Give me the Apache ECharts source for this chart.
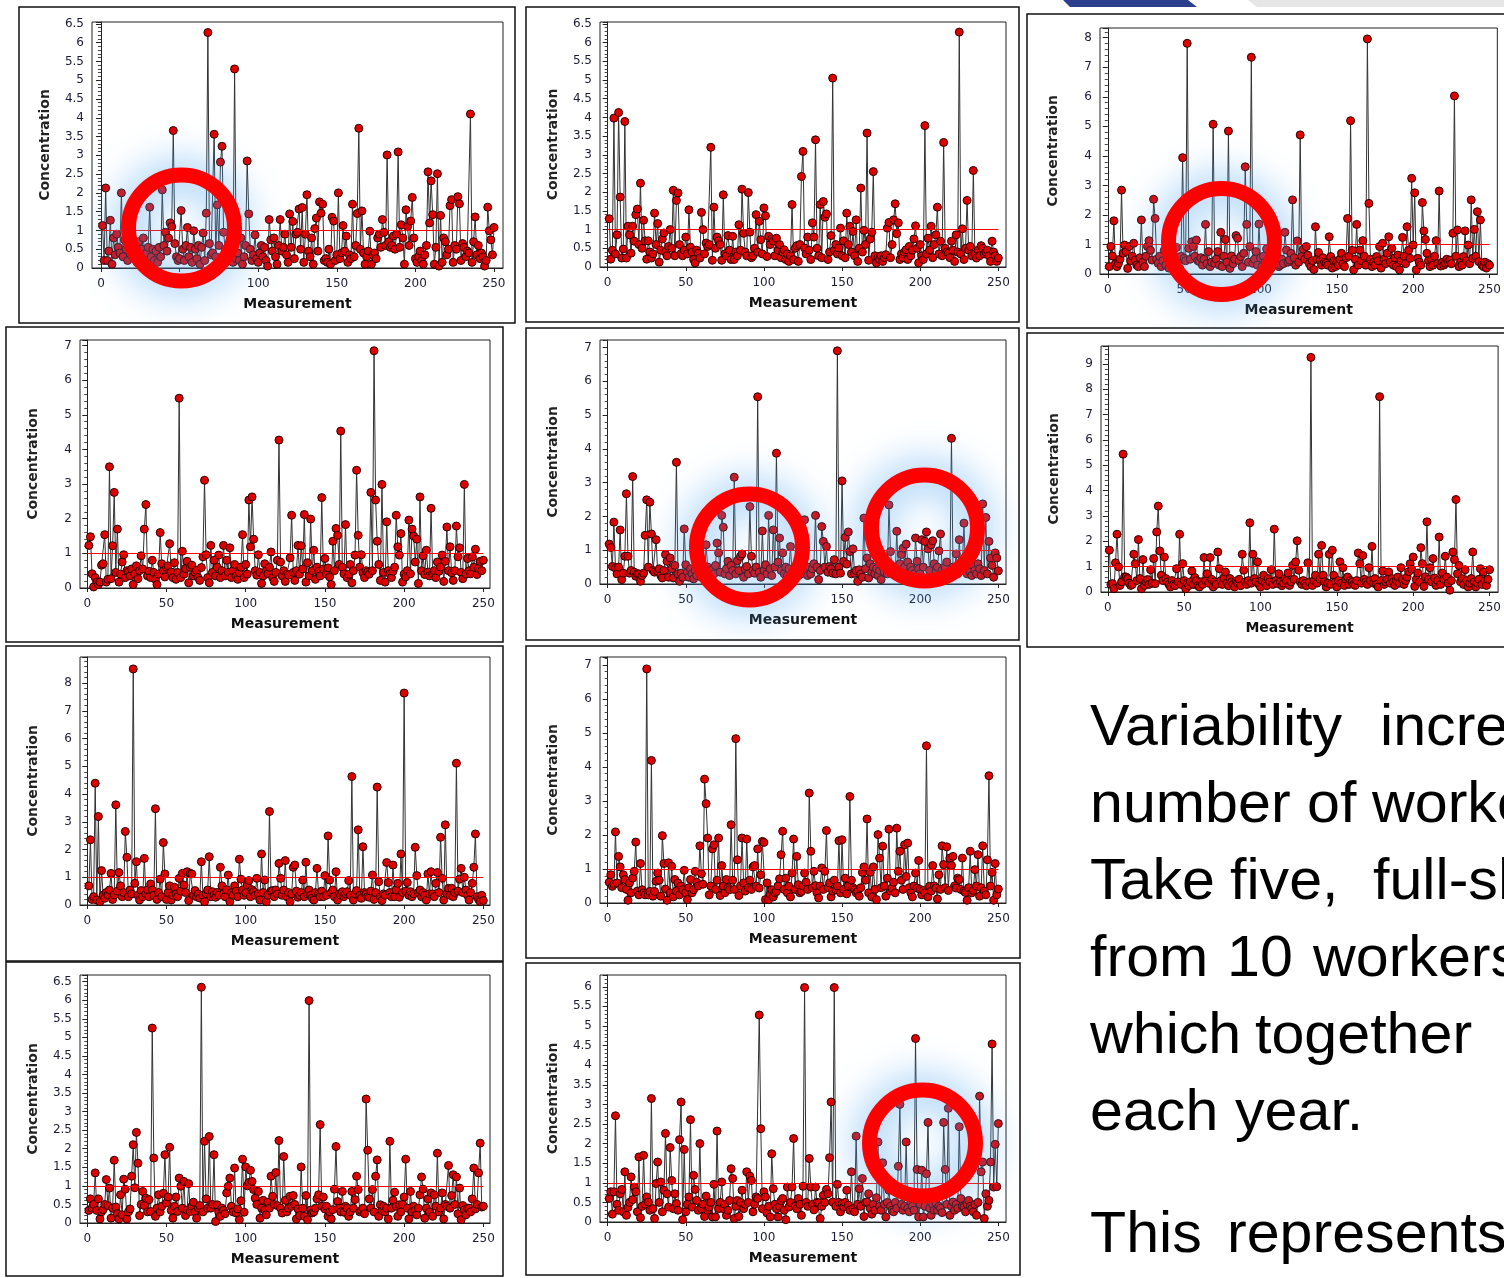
<!DOCTYPE html>
<html>
<head>
<meta charset="utf-8">
<script src="https://cdn.jsdelivr.net/npm/echarts@6/dist/echarts.min.js"></script>
<style>
  html, body { margin: 0; padding: 0; background: #fff; }
  #chart { width: 1504px; height: 1278px; }
</style>
</head>
<body>
<div id="chart"></div>
<script>
// concentration readings, 250 per worker panel
const conc1 = [
  1.13, 0.2, 2.13, 0.2, 0.45, 1.27, 0.1, 0.8, 0.35, 0.9,
  0.55, 0.4, 2.0, 0.3, 0.75, 0.5, 0.2, 0.95, 0.35, 0.6,
  0.25, 0.45, 0.15, 0.7, 0.3, 0.5, 0.8, 0.2, 0.4, 0.55,
  1.62, 0.3, 0.5, 0.2, 0.45, 0.15, 0.55, 0.3, 2.08, 0.6,
  0.95, 0.45, 0.8, 1.2, 1.1, 3.66, 0.65, 0.3, 0.2, 0.25,
  1.53, 0.5, 0.2, 0.6, 1.08, 0.3, 0.55, 0.15, 0.99, 0.5,
  0.25, 0.6, 0.1, 0.55, 0.93, 0.2, 1.46, 6.27, 0.65, 0.35,
  0.4, 3.56, 0.3, 1.68, 0.6, 2.82, 3.24, 0.95, 0.5, 0.3,
  0.2, 0.45, 0.3, 0.15, 5.3, 0.25, 0.4, 0.2, 0.8, 0.1,
  0.3, 0.6, 2.85, 1.44, 0.5, 0.2, 0.35, 0.88, 0.25, 0.15,
  0.4, 0.6, 0.3, 0.55, 0.2, 0.05, 1.29, 0.75, 0.45, 0.8,
  0.3, 0.1, 0.6, 1.29, 0.45, 0.55, 0.9, 0.35, 0.15, 1.44,
  0.55, 1.24, 0.25, 0.9, 0.95, 1.57, 0.5, 1.61, 0.15, 0.9,
  1.95, 0.45, 0.3, 0.8, 0.1, 1.05, 1.33, 0.45, 1.76, 1.46,
  1.7, 0.2, 0.25, 0.15, 0.5, 0.1, 1.35, 1.25, 0.2, 0.35,
  2.0, 0.25, 0.4, 1.13, 0.45, 0.85, 0.15, 0.35, 0.25, 1.7,
  0.3, 0.6, 1.45, 3.72, 0.5, 1.52, 0.4, 0.1, 0.3, 0.45,
  0.98, 0.1, 0.35, 0.4, 0.25, 0.8, 0.9, 0.55, 1.29, 0.95,
  0.6, 3.01, 0.7, 0.55, 0.6, 0.85, 0.5, 0.9, 3.09, 0.55,
  1.15, 0.8, 0.1, 1.55, 1.1, 0.6, 1.25, 1.88, 0.8, 0.25,
  0.15, 0.3, 0.45, 0.2, 0.1, 0.35, 0.6, 2.56, 1.2, 2.32,
  1.42, 0.1, 0.55, 2.51, 0.05, 1.4, 0.15, 0.8, 0.7, 0.35,
  0.5, 1.66, 1.82, 0.15, 0.6, 0.5, 1.9, 1.71, 0.2, 0.65,
  0.55, 0.3, 0.45, 0.4, 4.1, 0.15, 0.7, 1.36, 0.35, 0.6,
  0.25, 0.4, 0.3, 0.05, 0.2, 1.62, 0.99, 0.75, 0.35, 1.08
];
const conc2 = [
  1.29, 0.21, 0.45, 3.98, 0.35, 0.86, 4.13, 1.87, 0.24, 0.48,
  3.89, 0.24, 1.09, 0.86, 0.37, 1.09, 0.69, 1.4, 1.55, 0.6,
  2.24, 0.5, 1.25, 0.7, 0.21, 0.7, 0.4, 0.24, 0.35, 1.44,
  0.6, 1.16, 0.13, 0.45, 0.75, 0.91, 0.4, 0.3, 0.55, 1.0,
  0.5, 2.05, 0.3, 1.78, 1.98, 0.6, 0.36, 0.3, 0.45, 0.8,
  0.35, 1.53, 0.53, 0.4, 0.2, 0.11, 0.45, 0.37, 0.24, 1.46,
  1.0, 0.35, 0.64, 0.55, 0.6, 3.2, 0.18, 1.6, 0.5, 0.8,
  0.7, 0.6, 0.18, 1.93, 0.35, 0.3, 0.84, 0.45, 0.2, 0.82,
  0.2, 0.4, 0.3, 1.13, 0.45, 2.08, 0.9, 0.4, 0.3, 1.99,
  0.93, 0.25, 0.3, 0.5, 1.4, 0.4, 1.22, 0.73, 0.35, 1.58,
  1.37, 0.28, 0.82, 0.6, 0.75, 0.69, 0.3, 0.77, 0.45, 0.6,
  0.25, 0.4, 0.46, 0.2, 0.35, 0.15, 0.3, 1.67, 0.2, 0.5,
  0.57, 0.15, 0.6, 2.42, 3.09, 0.51, 0.35, 0.8, 0.45, 0.2,
  1.18, 0.8, 3.4, 0.5, 0.3, 1.67, 0.25, 1.75, 1.33, 1.42,
  0.2, 0.4, 0.84, 5.05, 0.45, 0.6, 0.35, 0.51, 1.04, 0.3,
  0.7, 0.25, 1.44, 0.6, 1.09, 0.4, 0.95, 0.3, 1.26, 0.15,
  0.5, 2.11, 0.4, 0.98, 0.6, 3.58, 0.18, 0.75, 0.93, 2.55,
  0.3, 0.11, 0.25, 0.2, 0.3, 0.15, 0.25, 0.33, 1.04, 1.19,
  0.25, 0.6, 1.26, 1.69, 0.89, 1.18, 0.2, 0.35, 0.25, 0.4,
  0.46, 0.2, 0.55, 0.3, 0.45, 0.75, 1.1, 0.5, 0.11, 0.6,
  0.3, 0.2, 3.78, 0.35, 0.77, 0.45, 1.09, 0.25, 0.6, 0.86,
  1.6, 0.35, 0.69, 0.3, 3.33, 0.5, 0.4, 0.37, 0.25, 0.69,
  0.45, 0.15, 0.86, 0.4, 6.28, 0.35, 1.02, 0.2, 0.5, 1.78,
  0.45, 0.55, 0.3, 2.58, 0.35, 0.24, 0.45, 0.3, 0.57, 0.5,
  0.35, 0.4, 0.45, 0.3, 0.15, 0.69, 0.4, 0.3, 0.15, 0.24
];
const conc3 = [
  0.25, 0.93, 0.61, 1.8, 0.35, 0.25, 0.36, 0.5, 2.84, 0.7,
  0.98, 0.76, 0.19, 0.93, 0.45, 0.6, 1.04, 0.47, 0.3, 0.25,
  0.55, 1.83, 0.4, 0.25, 0.6, 0.93, 1.13, 0.8, 0.47, 2.53,
  1.88, 0.5, 0.36, 0.6, 0.25, 0.45, 0.8, 0.3, 0.55, 0.2,
  0.4, 0.65, 0.3, 0.5, 0.9, 0.35, 0.2, 0.6, 3.94, 0.53,
  0.45, 7.81, 0.87, 0.5, 1.09, 0.93, 0.6, 1.15, 0.45, 0.42,
  0.55, 0.3, 0.5, 1.68, 0.35, 0.76, 0.25, 0.4, 5.07, 0.36,
  0.5, 0.76, 0.3, 1.41, 0.25, 0.6, 1.17, 0.4, 4.84, 0.19,
  0.61, 0.35, 0.5, 1.3, 1.21, 0.45, 0.59, 0.25, 0.7, 3.63,
  1.68, 0.4, 0.93, 7.34, 0.36, 0.5, 0.76, 0.3, 1.69, 0.55,
  0.25, 0.6, 0.4, 0.85, 0.3, 0.5, 0.2, 0.65, 0.35, 0.45,
  0.6, 0.25, 0.3, 0.5, 0.35, 1.41, 0.81, 0.4, 0.47, 0.7,
  2.51, 0.55, 0.3, 1.12, 0.4, 4.71, 0.6, 0.84, 0.5, 0.93,
  0.64, 0.35, 0.25, 0.45, 0.15, 1.6, 0.5, 0.73, 0.47, 0.3,
  0.55, 0.4, 0.36, 0.3, 1.26, 0.59, 0.2, 0.45, 0.25, 0.4,
  0.3, 0.5, 0.7, 0.35, 0.25, 0.55, 1.88, 0.6, 5.19, 0.8,
  0.14, 0.5, 1.68, 0.3, 0.81, 0.45, 1.13, 0.6, 0.3, 7.96,
  2.39, 0.5, 0.25, 0.4, 0.3, 0.59, 0.45, 0.93, 0.2, 1.04,
  0.5, 0.35, 0.7, 1.26, 0.4, 0.87, 0.3, 0.55, 0.25, 0.64,
  0.14, 0.45, 1.24, 0.6, 0.35, 1.6, 0.8, 0.53, 3.24, 0.98,
  2.75, 0.14, 0.53, 0.4, 0.3, 2.42, 1.46, 1.17, 0.7, 0.45,
  0.25, 0.5, 0.3, 0.6, 1.13, 0.35, 2.81, 0.27, 0.4, 0.3,
  0.36, 0.5, 0.4, 0.47, 0.35, 1.38, 6.03, 0.6, 1.49, 0.25,
  0.4, 0.3, 0.59, 1.46, 0.45, 0.98, 0.35, 2.51, 0.53, 1.51,
  0.6, 2.11, 0.42, 1.83, 0.3, 0.25, 0.4, 0.2, 0.35, 0.3
];
const conc4 = [
  1.23, 1.48, 0.41, 0.03, 0.3, 0.17, 0.1, 0.17, 0.66, 0.7,
  1.54, 0.17, 0.25, 3.5, 0.27, 1.22, 2.76, 0.45, 1.7, 0.17,
  0.4, 0.75, 0.96, 0.3, 0.5, 0.46, 0.35, 0.55, 0.1, 0.4,
  0.64, 0.27, 0.5, 0.93, 0.55, 1.7, 2.41, 0.35, 0.48, 0.3,
  0.8, 0.45, 0.25, 0.1, 0.4, 1.6, 0.7, 0.5, 0.32, 0.6,
  0.64, 1.28, 0.46, 0.3, 0.73, 0.25, 0.45, 5.48, 0.3, 1.06,
  0.4, 0.56, 0.77, 0.15, 0.6, 0.66, 0.35, 0.45, 0.51, 0.3,
  0.22, 0.59, 0.9, 3.11, 0.96, 0.3, 0.15, 1.23, 0.45, 0.8,
  0.35, 0.6, 0.95, 0.3, 0.5, 1.23, 0.35, 0.8, 0.45, 1.16,
  0.3, 0.5, 0.68, 0.35, 0.25, 0.44, 0.6, 1.54, 0.3, 0.68,
  0.4, 2.54, 1.19, 2.63, 1.41, 0.5, 0.37, 0.96, 0.45, 0.13,
  0.35, 0.7, 0.5, 0.41, 0.6, 1.04, 0.3, 0.19, 0.45, 0.8,
  4.27, 0.75, 0.35, 0.5, 0.19, 0.4, 0.37, 0.87, 2.1, 0.45,
  0.22, 0.5, 1.23, 0.4, 1.22, 0.55, 2.12, 0.17, 0.73, 0.35,
  1.99, 0.5, 1.09, 0.25, 0.6, 0.48, 0.35, 2.61, 0.55, 0.85,
  0.4, 0.58, 0.32, 0.1, 1.35, 0.5, 1.72, 1.52, 0.68, 4.53,
  0.6, 0.41, 1.83, 0.3, 0.39, 0.68, 0.15, 0.5, 0.95, 3.4,
  1.52, 0.6, 0.96, 0.44, 0.3, 0.5, 0.46, 0.4, 2.76, 0.5,
  6.85, 2.54, 1.35, 0.68, 0.22, 2.99, 0.45, 0.17, 1.91, 0.5,
  0.41, 0.3, 0.48, 0.6, 2.1, 1.19, 0.95, 1.57, 0.17, 0.4,
  0.32, 0.5, 1.96, 0.41, 1.7, 1.5, 0.75, 1.41, 0.13, 2.63,
  0.5, 0.93, 0.39, 1.09, 0.46, 0.35, 2.3, 0.41, 0.5, 0.3,
  0.75, 0.48, 0.6, 0.95, 0.19, 0.77, 1.76, 0.5, 1.19, 0.44,
  0.22, 0.5, 1.79, 0.9, 1.16, 0.45, 0.27, 2.99, 0.4, 0.85,
  0.5, 0.41, 0.9, 0.6, 1.12, 0.39, 0.56, 0.77, 0.5, 0.8
];
const conc5 = [
  1.18, 1.08, 0.52, 1.83, 0.47, 0.3, 0.5, 1.6, 0.13, 0.32,
  0.82, 2.67, 0.82, 0.32, 0.4, 3.18, 0.35, 0.23, 0.3, 0.3,
  0.08, 0.25, 0.32, 1.44, 2.49, 0.5, 2.42, 1.48, 0.4, 0.35,
  1.31, 0.37, 0.45, 0.25, 0.18, 0.4, 0.87, 0.67, 0.2, 0.77,
  0.45, 0.18, 0.55, 3.6, 0.3, 0.08, 0.32, 0.2, 1.63, 0.57,
  0.35, 0.2, 0.45, 0.3, 0.15, 0.4, 0.25, 0.5, 0.3, 0.2,
  0.45, 0.3, 1.16, 0.5, 0.25, 0.4, 0.42, 0.3, 0.55, 1.21,
  0.92, 0.35, 2.03, 1.68, 0.3, 0.45, 0.67, 0.25, 0.55, 0.4,
  3.16, 0.3, 0.69, 0.4, 0.82, 0.89, 0.2, 0.45, 0.52, 0.3,
  2.29, 0.82, 0.4, 0.32, 0.5, 5.54, 0.35, 0.2, 1.57, 0.4,
  0.57, 0.3, 2.03, 0.45, 0.25, 1.6, 0.5, 3.87, 0.65, 1.36,
  0.4, 0.92, 0.3, 0.5, 0.25, 0.45, 1.11, 0.3, 0.2, 0.5,
  0.35, 0.25, 0.45, 0.3, 0.6, 1.9, 0.4, 0.25, 0.5, 0.3,
  0.45, 0.6, 2.03, 0.5, 0.13, 0.4, 1.7, 1.26, 0.5, 1.11,
  0.35, 0.52, 0.45, 0.32, 0.72, 0.3, 6.9, 0.5, 0.32, 3.05,
  0.67, 1.38, 0.59, 1.54, 0.96, 0.3, 1.04, 0.32, 0.4, 0.08,
  0.42, 0.3, 0.2, 1.95, 0.45, 0.77, 0.18, 0.6, 0.35, 0.5,
  0.3, 0.45, 0.25, 0.4, 0.13, 0.5, 0.35, 0.6, 0.3, 2.34,
  0.96, 0.5, 0.4, 0.3, 1.56, 0.45, 0.6, 0.87, 1.06, 0.5,
  1.18, 0.65, 0.35, 0.5, 0.4, 0.3, 1.36, 0.67, 0.45, 0.3,
  1.31, 0.5, 1.26, 1.54, 1.04, 0.4, 1.16, 1.28, 0.6, 0.35,
  0.5, 0.98, 1.48, 0.4, 0.3, 0.5, 0.65, 0.35, 0.25, 4.31,
  0.5, 0.4, 0.89, 0.3, 1.31, 0.45, 0.6, 1.8, 0.4, 0.3,
  0.5, 0.35, 0.25, 0.55, 0.4, 0.3, 0.6, 0.45, 0.25, 2.37,
  0.4, 1.97, 0.3, 1.26, 0.77, 0.55, 0.2, 0.92, 0.77, 0.39
];
const conc6 = [
  1.65, 0.3, 0.33, 0.13, 1.15, 2.28, 0.99, 0.26, 0.4, 5.44,
  0.6, 0.59, 0.53, 0.35, 0.26, 0.3, 1.49, 1.12, 0.45, 2.07,
  0.53, 0.13, 1.28, 0.26, 0.4, 0.49, 0.3, 0.88, 0.35, 1.32,
  0.33, 2.37, 3.39, 1.62, 0.66, 0.45, 1.38, 0.53, 0.4, 0.3,
  0.2, 0.45, 0.3, 0.25, 0.92, 0.4, 2.28, 0.3, 1.12, 0.45,
  0.13, 0.35, 0.25, 0.4, 0.83, 0.3, 0.57, 0.45, 0.25, 0.2,
  0.4, 0.3, 1.36, 0.45, 0.72, 0.35, 1.36, 0.5, 0.2, 0.4,
  0.3, 1.58, 0.92, 0.45, 0.3, 0.55, 0.79, 0.35, 0.25, 0.53,
  0.4, 0.3, 0.2, 0.43, 0.35, 0.5, 0.25, 1.49, 0.86, 0.4,
  0.3, 0.45, 2.73, 0.35, 1.49, 0.53, 0.4, 1.19, 0.3, 0.2,
  0.45, 0.66, 0.35, 0.25, 0.53, 0.4, 0.88, 0.3, 2.48, 0.45,
  0.33, 0.72, 0.4, 0.25, 0.35, 0.53, 0.45, 0.75, 0.26, 0.4,
  1.05, 0.5, 1.19, 2.02, 0.86, 0.4, 0.3, 0.45, 0.33, 0.25,
  1.15, 0.4, 9.26, 0.26, 0.45, 0.66, 0.35, 1.49, 0.5, 1.84,
  0.66, 0.4, 0.2, 0.35, 1.49, 0.3, 1.65, 0.66, 0.4, 0.2,
  0.45, 1.19, 0.35, 0.96, 0.26, 0.5, 0.59, 0.3, 0.45, 0.4,
  0.3, 0.26, 0.45, 1.54, 1.12, 0.35, 1.44, 0.5, 0.4, 0.3,
  0.96, 0.45, 1.8, 0.35, 0.53, 0.3, 0.2, 7.71, 0.45, 0.83,
  0.3, 0.4, 0.5, 0.79, 0.35, 0.53, 0.4, 0.26, 0.45, 0.59,
  0.35, 0.96, 0.5, 0.3, 0.45, 0.59, 0.8, 1.12, 0.9, 1.38,
  0.22, 0.5, 0.75, 0.4, 1.75, 1.12, 0.22, 0.6, 2.77, 0.5,
  0.96, 0.4, 1.32, 0.55, 0.26, 0.45, 2.17, 0.3, 0.75, 0.5,
  1.41, 0.59, 0.35, 0.07, 0.45, 1.58, 1.28, 3.65, 0.72, 1.05,
  0.4, 0.53, 0.3, 0.88, 0.45, 0.2, 0.35, 0.53, 1.58, 0.4,
  0.2, 0.35, 0.5, 0.92, 0.3, 0.79, 0.45, 0.26, 0.5, 0.88
];
const conc7 = [
  0.69, 2.35, 0.2, 0.3, 4.39, 0.18, 3.19, 0.12, 1.24, 0.35,
  0.24, 0.45, 0.36, 0.54, 1.14, 0.2, 0.36, 3.61, 0.5, 1.17,
  0.69, 0.3, 0.45, 2.65, 1.72, 0.3, 0.54, 0.4, 8.51, 0.78,
  1.56, 0.35, 0.18, 0.52, 0.3, 1.68, 0.4, 0.55, 0.3, 0.76,
  0.54, 0.35, 3.47, 0.2, 0.45, 0.93, 0.3, 2.25, 1.12, 0.2,
  0.45, 0.69, 0.18, 0.35, 0.64, 0.4, 0.3, 0.96, 0.5, 1.14,
  0.72, 0.45, 1.2, 0.16, 1.14, 1.12, 0.35, 0.52, 0.3, 0.4,
  0.25, 1.56, 0.35, 0.12, 0.4, 0.54, 1.74, 0.3, 0.48, 0.35,
  0.28, 0.45, 0.35, 1.36, 0.69, 0.4, 0.3, 0.55, 1.08, 0.12,
  0.45, 0.35, 0.69, 0.5, 0.3, 1.65, 0.93, 0.54, 0.35, 0.45,
  0.72, 0.88, 0.3, 0.55, 0.48, 0.35, 0.96, 0.4, 0.18, 1.84,
  0.45, 0.9, 0.12, 0.35, 3.37, 0.5, 0.52, 0.3, 0.54, 0.4,
  1.5, 0.96, 0.35, 0.54, 1.6, 0.3, 0.45, 0.12, 0.4, 1.36,
  1.44, 0.5, 0.28, 0.35, 0.45, 0.9, 0.3, 1.54, 0.4, 0.54,
  0.35, 0.25, 0.18, 0.45, 1.32, 0.4, 0.3, 0.5, 0.3, 1.06,
  0.35, 2.49, 0.9, 0.45, 0.54, 0.3, 1.2, 0.18, 0.4, 0.35,
  0.48, 0.3, 0.4, 0.48, 0.88, 0.35, 4.63, 0.18, 0.4, 0.52,
  2.71, 0.35, 0.24, 2.1, 0.45, 0.4, 0.3, 0.28, 0.5, 1.08,
  0.2, 0.45, 4.25, 0.84, 0.3, 0.16, 0.4, 0.35, 1.53, 0.81,
  0.45, 0.3, 1.44, 0.3, 0.55, 0.78, 0.28, 1.84, 0.45, 7.64,
  0.5, 0.81, 0.35, 0.48, 0.3, 0.4, 2.08, 1.06, 0.45, 0.54,
  0.3, 0.45, 0.35, 0.18, 1.12, 0.4, 1.2, 0.4, 0.3, 0.78,
  1.17, 0.45, 2.44, 0.96, 0.18, 2.89, 0.4, 0.6, 0.35, 0.6,
  0.3, 0.45, 5.11, 0.5, 0.93, 1.32, 0.45, 1.0, 0.54, 0.35,
  0.18, 0.45, 0.78, 1.36, 2.56, 0.3, 0.2, 0.12, 0.35, 0.16
];
const conc8 = [
  0.61, 0.83, 0.49, 0.55, 2.09, 0.59, 1.37, 1.06, 0.45, 0.83,
  0.69, 0.4, 0.08, 0.59, 0.3, 0.73, 0.93, 1.79, 0.35, 0.24,
  1.16, 0.39, 0.3, 0.24, 6.88, 0.24, 0.34, 4.19, 0.2, 0.34,
  0.64, 0.88, 0.67, 0.2, 1.98, 1.16, 0.41, 0.08, 1.18, 0.3,
  1.08, 0.18, 0.69, 0.35, 0.59, 0.24, 0.5, 0.39, 0.96, 0.3,
  0.1, 0.45, 0.69, 0.3, 0.39, 0.93, 0.61, 0.5, 1.68, 0.86,
  0.55, 3.64, 2.92, 1.91, 0.24, 0.5, 1.59, 1.71, 0.4, 0.67,
  1.91, 0.22, 1.1, 0.5, 0.3, 0.69, 0.45, 0.39, 2.3, 0.67,
  0.4, 4.83, 1.27, 0.22, 0.5, 1.91, 0.59, 0.35, 1.88, 0.45,
  0.67, 0.4, 1.06, 1.1, 0.5, 1.59, 0.44, 0.83, 1.81, 1.78,
  0.1, 0.59, 0.1, 0.25, 0.39, 0.18, 0.3, 0.34, 0.5, 0.71,
  1.42, 2.11, 0.4, 0.73, 0.3, 0.49, 0.18, 0.88, 1.88, 0.4,
  1.37, 0.54, 0.3, 0.34, 0.5, 0.88, 0.61, 0.4, 3.23, 1.52,
  0.45, 0.93, 0.51, 0.3, 0.15, 0.5, 1.03, 0.4, 0.93, 2.13,
  0.45, 0.59, 0.18, 0.35, 0.67, 0.39, 0.5, 1.83, 0.3, 1.86,
  0.4, 0.73, 0.27, 0.5, 3.13, 0.67, 0.45, 0.39, 0.3, 0.34,
  0.2, 0.45, 0.9, 1.06, 0.67, 2.47, 0.3, 0.9, 0.18, 1.06,
  0.4, 0.1, 2.01, 1.32, 0.45, 1.67, 0.5, 0.2, 0.73, 2.17,
  0.35, 0.44, 0.61, 0.3, 2.2, 0.93, 1.52, 0.67, 0.4, 1.71,
  0.78, 1.76, 0.45, 0.3, 0.18, 0.5, 0.88, 0.44, 1.25, 0.4,
  0.24, 0.37, 0.3, 4.62, 0.18, 0.49, 0.35, 1.1, 0.5, 0.44,
  0.12, 0.83, 0.4, 1.68, 1.13, 0.45, 1.65, 0.37, 1.32, 1.1,
  1.37, 0.5, 0.44, 0.73, 0.69, 0.4, 1.32, 0.35, 0.31, 0.08,
  0.45, 1.52, 0.3, 0.37, 0.98, 0.5, 1.42, 0.2, 0.45, 1.68,
  0.35, 0.24, 1.27, 3.74, 0.5, 0.9, 0.08, 1.16, 0.24, 0.41
];
const conc9 = [
  0.34, 0.65, 0.4, 0.5, 1.35, 0.34, 0.65, 0.11, 0.3, 0.36,
  0.5, 1.17, 0.47, 0.94, 0.13, 0.4, 1.69, 0.43, 0.25, 0.11,
  0.76, 0.22, 1.18, 0.91, 0.11, 0.3, 0.38, 1.26, 2.11, 0.95,
  2.44, 1.61, 0.2, 0.5, 0.85, 0.47, 0.67, 0.3, 0.63, 0.31,
  5.25, 1.75, 0.18, 0.4, 0.76, 0.3, 0.45, 0.8, 1.84, 0.54,
  0.7, 2.04, 0.34, 0.13, 0.45, 0.7, 0.31, 1.21, 0.99, 0.4,
  1.12, 0.2, 0.35, 1.06, 0.31, 0.45, 0.56, 0.3, 0.13, 0.4,
  0.47, 6.35, 0.3, 2.2, 0.65, 0.4, 2.33, 0.4, 0.5, 1.84,
  0.04, 0.49, 0.3, 0.18, 0.4, 0.34, 0.25, 0.81, 0.99, 1.21,
  0.45, 0.3, 1.48, 0.27, 0.38, 0.09, 0.6, 1.72, 0.29, 1.51,
  1.0, 1.09, 1.42, 1.12, 0.9, 0.67, 0.5, 0.85, 0.13, 0.4,
  0.61, 0.35, 0.22, 0.56, 0.4, 1.26, 0.72, 0.5, 1.36, 0.47,
  2.22, 0.4, 0.27, 1.79, 0.61, 0.3, 0.4, 0.72, 0.45, 0.74,
  0.5, 0.11, 0.38, 0.2, 1.51, 0.4, 0.18, 0.74, 0.09, 5.99,
  0.35, 0.27, 0.3, 0.4, 0.65, 0.76, 2.65, 0.45, 0.7, 0.38,
  0.45, 0.18, 0.3, 0.11, 0.36, 0.91, 2.06, 0.58, 0.4, 0.3,
  0.85, 0.29, 0.45, 0.4, 0.18, 0.3, 0.85, 0.4, 0.63, 1.26,
  0.9, 0.3, 0.34, 0.4, 0.25, 3.34, 1.96, 0.65, 0.4, 0.9,
  0.3, 1.26, 1.7, 0.18, 0.49, 0.34, 0.45, 0.3, 0.4, 0.11,
  2.2, 0.4, 0.61, 0.83, 0.45, 0.18, 0.49, 0.3, 0.5, 0.7,
  1.72, 0.4, 0.11, 0.85, 0.3, 0.45, 0.35, 0.22, 0.4, 0.76,
  1.24, 0.91, 0.13, 0.4, 0.65, 0.3, 0.81, 0.18, 0.76, 0.45,
  1.88, 0.3, 0.4, 0.81, 0.11, 0.5, 0.45, 1.55, 0.4, 0.74,
  1.3, 0.5, 1.24, 0.25, 0.94, 0.09, 0.47, 0.35, 0.22, 0.4,
  0.4, 0.3, 0.65, 1.48, 0.38, 0.5, 1.35, 2.15, 0.43, 0.45
];
const conc10 = [
  0.6, 0.77, 0.2, 0.77, 2.71, 0.45, 0.3, 0.72, 0.83, 0.26,
  1.28, 0.17, 0.37, 0.5, 1.15, 0.57, 0.89, 0.77, 0.26, 1.66,
  0.11, 0.4, 1.7, 0.45, 0.64, 0.51, 0.3, 3.15, 0.34, 0.09,
  0.98, 1.53, 0.5, 1.02, 0.26, 0.81, 2.26, 0.72, 0.38, 1.9,
  1.06, 0.34, 0.72, 0.47, 0.3, 2.1, 3.06, 0.06, 1.85, 0.26,
  0.45, 0.64, 2.61, 0.38, 1.19, 0.83, 0.55, 0.3, 2.0, 0.34,
  0.45, 0.14, 0.66, 0.3, 0.38, 0.5, 0.13, 0.96, 0.13, 2.32,
  0.34, 0.5, 1.02, 0.34, 0.45, 0.17, 0.3, 0.55, 1.36, 1.11,
  0.09, 0.4, 0.55, 0.14, 0.5, 0.81, 0.34, 0.45, 1.28, 0.5,
  1.17, 1.06, 0.26, 0.45, 0.64, 0.6, 5.28, 2.38, 0.34, 0.77,
  0.64, 0.23, 0.4, 0.13, 1.74, 0.85, 0.45, 0.34, 0.13, 0.4,
  0.54, 0.6, 0.3, 0.06, 0.89, 0.38, 0.5, 0.89, 2.13, 0.4,
  0.34, 0.6, 0.45, 0.17, 0.91, 5.98, 0.5, 0.4, 1.62, 0.89,
  0.45, 0.31, 0.89, 0.5, 0.49, 0.09, 0.4, 0.68, 0.5, 0.83,
  0.72, 1.64, 3.06, 0.51, 5.98, 0.4, 0.96, 0.5, 0.26, 0.47,
  0.38, 0.5, 0.81, 0.43, 0.3, 1.28, 0.34, 0.26, 2.19, 0.45,
  0.85, 0.4, 1.11, 0.14, 0.5, 0.51, 0.72, 0.35, 0.2, 0.45,
  0.3, 0.62, 2.04, 0.4, 0.3, 1.51, 0.45, 0.13, 0.5, 0.81,
  0.4, 0.3, 0.26, 0.5, 0.35, 1.42, 3.0, 0.45, 0.3, 0.4,
  2.04, 0.35, 0.26, 0.5, 0.4, 0.3, 4.68, 1.34, 0.13, 0.45,
  1.32, 0.13, 0.4, 1.23, 2.54, 0.35, 0.17, 0.45, 0.3, 0.5,
  0.3, 0.4, 0.35, 0.24, 2.54, 1.34, 0.45, 2.9, 0.17, 0.4,
  0.51, 0.3, 0.45, 0.35, 2.43, 0.6, 0.4, 0.38, 0.26, 0.45,
  0.55, 0.4, 0.34, 0.26, 0.45, 0.17, 0.5, 3.21, 1.28, 1.53,
  0.09, 0.72, 0.4, 0.55, 1.53, 4.54, 0.89, 1.98, 0.9, 2.51
];

const panels = [conc1, conc2, conc3, conc4, conc5, conc6, conc7, conc8, conc9, conc10];
const yMaxes = [6.55, 6.55, 8.33, 7.16, 7.22, 9.71, 8.94, 7.23, 6.68, 6.3];
const yIntervals = [0.5, 0.5, 1, 1, 1, 1, 1, 1, 0.5, 0.5];
const xTicks = [0, 50, 100, 150, 200, 250];
const limitValue = 1;

// slide text, one list of words per line (justified in the original)
const textLines = [
  ['Variability', 'increases'],
  ['number', 'of', 'workers'],
  ['Take', 'five,', 'full-shift'],
  ['from', '10', 'workers'],
  ['which', 'together'],
  ['each', 'year.'],
  ['This', 'represents']
];
const wordStarts = [
  [1090, 1380],
  [1090, 1307, 1372],
  [1090, 1230, 1373],
  [1090, 1227, 1313],
  [1090, 1255],
  [1090, 1235],
  [1090, 1227]
];
const lineMiddles = [729, 806, 883, 960, 1037, 1114, 1236];

// plot areas in page pixels
const plots = [
  { left: 92, top: 22, width: 411, height: 246, xMin: -5.7, xMax: 255.7 },
  { left: 600, top: 22, width: 406, height: 245, xMin: -4.9, xMax: 254.9 },
  { left: 1100, top: 28, width: 408, height: 246, xMin: -5.1, xMax: 255.1 },
  { left: 80, top: 340, width: 410, height: 248, xMin: -4.6, xMax: 254.2 },
  { left: 600, top: 340, width: 406, height: 244, xMin: -4.9, xMax: 254.9 },
  { left: 1101, top: 346, width: 408, height: 246, xMin: -4.5, xMax: 255.6 },
  { left: 80, top: 657, width: 410, height: 248, xMin: -4.6, xMax: 254.2 },
  { left: 600, top: 657, width: 406, height: 246, xMin: -4.9, xMax: 254.9 },
  { left: 80, top: 975, width: 410, height: 248, xMin: -4.6, xMax: 254.2 },
  { left: 600, top: 975, width: 406, height: 247, xMin: -4.9, xMax: 254.9 }
];
// outer frames round each chart
const frames = [
  [19, 7, 496, 316], [526, 7, 493, 315], [1027, 14, 490, 314],
  [6, 327, 497, 315], [526, 328, 493, 312], [1027, 333, 490, 314],
  [6, 646, 497, 315], [526, 646, 494, 312],
  [6, 962, 497, 314], [526, 963, 494, 312]
];
const rings = [[181.5, 228], [1221.5, 241.5], [749.5, 547], [924.5, 528], [922.5, 1143]];

const tickFont = { fontFamily: 'DejaVu Sans', fontSize: 12, color: '#1c1c34' };

const grids = [], xAxes = [], yAxes = [], series = [];
plots.forEach((p, i) => {
  grids.push({
    left: p.left, top: p.top, width: p.width, height: p.height,
    show: true, borderColor: '#222', borderWidth: 1, backgroundColor: '#fff'
  });
  xAxes.push({
    gridIndex: i, type: 'value', min: p.xMin, max: p.xMax,
    name: 'Measurement', nameLocation: 'middle', nameGap: 29,
    nameTextStyle: { fontFamily: 'DejaVu Sans', fontSize: 14, fontWeight: 'bold', color: '#111' },
    axisLine: { onZero: false, lineStyle: { color: '#222' } },
    axisTick: { customValues: xTicks, length: 4, lineStyle: { color: '#222' } },
    axisLabel: { customValues: xTicks, margin: 10, ...tickFont },
    splitLine: { show: false }
  });
  yAxes.push({
    gridIndex: i, type: 'value', min: 0, max: yMaxes[i], interval: yIntervals[i],
    name: 'Concentration', nameLocation: 'middle', nameGap: 40,
    nameTextStyle: { fontFamily: 'DejaVu Sans', fontSize: 14, fontWeight: 'bold', color: '#222' },
    axisLine: { show: true, lineStyle: { color: '#222' } },
    axisTick: { show: true, length: 5, lineStyle: { color: '#222' } },
    minorTick: { show: true, splitNumber: 5, length: 3, lineStyle: { color: '#444' } },
    axisLabel: { showMaxLabel: false, margin: 8, ...tickFont },
    splitLine: { show: false }
  });
  series.push({
    type: 'line', xAxisIndex: i, yAxisIndex: i,
    data: panels[i].map((v, k) => [k + 1, v]),
    symbol: 'circle', symbolSize: 8, showAllSymbol: true,
    lineStyle: { color: '#333', width: 1 },
    itemStyle: { color: '#e00000', borderColor: '#2a0000', borderWidth: 1 },
    markLine: {
      silent: true, symbol: ['none', 'none'], label: { show: false },
      lineStyle: { color: '#ff0000', width: 1.2, type: 'solid' },
      data: [[{ coord: [0, limitValue] }, { coord: [250, limitValue] }]]
    },
    animation: false
  });
});

const graphics = [];
frames.forEach(f => {
  graphics.push({
    type: 'rect', shape: { x: f[0], y: f[1], width: f[2], height: f[3] },
    style: { fill: 'none', stroke: '#111', lineWidth: 1.5 }, z: 1, silent: true
  });
});
// slide header strip, top right
graphics.push({
  type: 'polygon', shape: { points: [[1063, 0], [1188, 0], [1197, 7], [1070, 7]] },
  style: { fill: '#2b3f8e' }, z: 1, silent: true
});
graphics.push({
  type: 'polygon', shape: { points: [[1248, 0], [1504, 0], [1504, 7], [1257, 7]] },
  style: { fill: '#e6e6e6' }, z: 1, silent: true
});
rings.forEach(c => {
  graphics.push({
    type: 'circle', shape: { cx: c[0], cy: c[1], r: 53 },
    style: {
      fill: 'none', stroke: '#ff0000', lineWidth: 15,
      shadowBlur: 40, shadowColor: 'rgba(80,165,240,1)'
    },
    z: 100, silent: true
  });
});
textLines.forEach((words, i) => {
  words.forEach((w, j) => {
    graphics.push({
      type: 'text', x: wordStarts[i][j], y: lineMiddles[i], scaleX: 1.02, z: 50, silent: true,
      style: {
        text: w, fill: '#000', verticalAlign: 'middle', align: 'left',
        font: '58px "Liberation Sans", Arial, sans-serif'
      }
    });
  });
});

const chart = echarts.init(document.getElementById('chart'), null, { renderer: 'canvas' });
chart.setOption({
  animation: false,
  backgroundColor: '#fff',
  grid: grids,
  xAxis: xAxes,
  yAxis: yAxes,
  series: series,
  graphic: graphics
});
</script>
</body>
</html>
